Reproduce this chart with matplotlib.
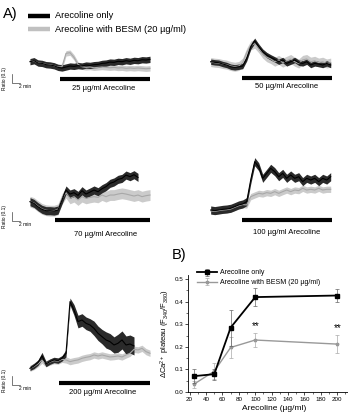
import numpy as np
import matplotlib
matplotlib.use('Agg')
import matplotlib.pyplot as plt
from matplotlib.ticker import MultipleLocator

plt.rcParams['font.family'] = ['Liberation Sans', 'DejaVu Sans']
plt.rcParams['mathtext.fontset'] = 'custom'
plt.rcParams['mathtext.rm'] = 'Liberation Sans'
plt.rcParams['mathtext.it'] = 'Liberation Sans:italic'

# ---- Panel A data: mean fluorescence ratio traces (1 sample per minute) ----
minutes = list(range(31))

p25_only = [1.000, 1.011, 0.985, 0.981, 0.967, 0.963, 0.955, 0.937, 0.930, 0.941, 0.952,
            0.948, 0.956, 0.952, 0.963, 0.959, 0.967, 0.970, 0.981, 0.985, 0.996, 0.993,
            1.004, 1.000, 1.011, 1.004, 1.015, 1.011, 1.022, 1.019, 1.026]
p25_besm = [1.004, 1.007, 0.989, 0.981, 0.970, 0.967, 0.955, 0.941, 0.944, 1.093, 1.100,
            1.048, 0.970, 0.944, 0.937, 0.941, 0.933, 0.937, 0.941, 0.937, 0.933, 0.937,
            0.930, 0.933, 0.926, 0.930, 0.926, 0.930, 0.926, 0.922, 0.926]

p50_only = [1.000, 0.993, 0.989, 0.974, 0.963, 0.944, 0.937, 0.944, 0.952, 1.037, 1.167,
            1.233, 1.167, 1.111, 1.074, 1.048, 1.026, 1.000, 1.019, 0.981, 1.000, 1.019,
            0.989, 0.981, 1.000, 0.963, 0.981, 0.974, 0.963, 0.981, 0.963]
p50_besm = [0.996, 0.989, 0.985, 0.974, 0.967, 0.952, 0.944, 0.952, 0.990, 1.100, 1.180,
            1.200, 1.150, 1.090, 1.050, 1.030, 1.000, 1.020, 0.990, 1.010, 1.030, 1.000,
            0.980, 1.020, 1.030, 1.000, 1.010, 0.990, 1.000, 0.980, 0.990]

p70_only = [1.000, 0.981, 0.944, 0.915, 0.900, 0.900, 0.896, 0.907, 1.019, 1.130, 1.085,
            1.100, 1.070, 1.122, 1.085, 1.107, 1.130, 1.111, 1.144, 1.167, 1.204, 1.219,
            1.248, 1.259, 1.296, 1.278, 1.300, 1.270]
p70_besm = [1.000, 0.985, 0.950, 0.920, 0.905, 0.900, 0.900, 0.915, 1.030, 1.100, 1.037,
            1.056, 1.019, 1.056, 1.037, 1.048, 1.056, 1.048, 1.074, 1.056, 1.074, 1.074,
            1.085, 1.093, 1.085, 1.074, 1.063, 1.074, 1.056, 1.067, 1.074]

p100_only = [1.000, 0.993, 1.000, 1.007, 1.011, 1.019, 1.037, 1.056, 1.067, 1.093, 1.333,
             1.537, 1.481, 1.352, 1.407, 1.463, 1.426, 1.370, 1.407, 1.352, 1.389, 1.352,
             1.370, 1.315, 1.352, 1.333, 1.352, 1.315, 1.352, 1.333, 1.370]
p100_besm = [0.990, 0.985, 0.993, 1.000, 1.004, 1.011, 1.030, 1.048, 1.060, 1.056, 1.148,
             1.167, 1.185, 1.178, 1.193, 1.185, 1.204, 1.185, 1.204, 1.222, 1.204, 1.222,
             1.215, 1.241, 1.222, 1.230, 1.222, 1.241, 1.222, 1.230, 1.230]

p200_only = [1.000, 1.026, 1.063, 1.137, 1.048, 1.074, 1.093, 1.085, 1.111, 1.167, 1.741,
             1.648, 1.519, 1.537, 1.500, 1.481, 1.444, 1.389, 1.352, 1.315, 1.296, 1.259,
             1.278, 1.315, 1.259, 1.270, 1.248]
p200_besm = [1.000, 1.020, 1.050, 1.090, 1.050, 1.070, 1.085, 1.080, 1.100, 1.093, 1.074,
             1.085, 1.093, 1.111, 1.122, 1.130, 1.148, 1.137, 1.148, 1.137, 1.126, 1.130,
             1.137, 1.126, 1.148, 1.167, 1.211, 1.204, 1.222, 1.185, 1.167]

# SEM of each trace
sem_only = [0.035, 0.03, 0.045, 0.045, None]
sem_besm = [0.03, 0.05, 0.06, 0.035, 0.035]
p200_only_sem = [0.025, 0.03, 0.03, 0.04, 0.03, 0.03, 0.03, 0.03, 0.03, 0.04, 0.04, 0.06,
                 0.07, 0.07, 0.07, 0.07, 0.08, 0.08, 0.08, 0.09, 0.09, 0.09, 0.10, 0.10,
                 0.10, 0.10, 0.10]

doses_a = ['25', '50', '70', '100', '200']
stim_on = [7.5, 7.9, 6.25, 7.9, 7.25]   # minutes
stim_off = [30, 30.3, 30, 30.3, 30]

# ---- Panel B data ----
conc = [25, 50, 70, 100, 200]
plateau_only = [0.070, 0.079, 0.285, 0.420, 0.427]
plateau_only_err = [0.030, 0.025, 0.080, 0.040, 0.030]
plateau_besm = [0.034, 0.092, 0.197, 0.230, 0.212]
plateau_besm_err = [0.015, 0.035, 0.045, 0.030, 0.040]
signif = [100, 200]

W, H = 348, 413
PX_MIN, PX_RATIO = 4.0, 90.0
fig = plt.figure(figsize=(W / 100, H / 100), dpi=100)


def fx(x):
    return x / W


def fy(y):
    return 1 - y / H


# layout of each trace panel (pixel positions)
t0_px = [30, 210.7, 30, 210.7, 30]
base_px = [61.7, 61.7, 201.7, 210, 368.3]
bar_px = [79, 78.3, 220, 220, 383.3]
label_px = [(104, 89), (287, 87), (105.5, 234), (287, 233), (103, 393)]
scale_px = [83, None, 221, None, 385]
only_series = [p25_only, p50_only, p70_only, p100_only, p200_only]
besm_series = [p25_besm, p50_besm, p70_besm, p100_besm, p200_besm]

for i in range(5):
    ax = fig.add_axes([0, 0, 1, 1])
    ax.patch.set_alpha(0)
    ax.axis('off')
    t0, b = t0_px[i], base_px[i]
    ax.set_xlim(-t0 / PX_MIN, (W - t0) / PX_MIN)
    ax.set_ylim(1 - (H - b) / PX_RATIO, 1 + b / PX_RATIO)

    g = np.array(besm_series[i])
    tg = np.array(minutes[:len(g)])
    ax.fill_between(tg, g - sem_besm[i], g + sem_besm[i], color='#cbcbcb', lw=0)
    ax.plot(tg, g, color='#a8a8a8', lw=0.8)

    k = np.array(only_series[i])
    tk = np.array(minutes[:len(k)])
    s = np.array(p200_only_sem) if sem_only[i] is None else sem_only[i]
    ax.fill_between(tk, k - s, k + s, color='#2a2a2a', lw=0)
    ax.plot(tk, k, color='black', lw=0.8)

    yb = 1 - (bar_px[i] - b) / PX_RATIO
    ax.plot([stim_on[i], stim_off[i]], [yb, yb], color='black', lw=3, solid_capstyle='butt')
    fig.text(fx(label_px[i][0]), fy(label_px[i][1]), doses_a[i] + ' µg/ml Arecoline',
             ha='center', va='center', fontsize=5.5)

    if scale_px[i] is not None:
        ys = 1 - (scale_px[i] - b) / PX_RATIO
        ts = (12 - t0) / PX_MIN
        ax.plot([ts, ts, ts + 2], [ys + 0.1, ys, ys], color='#444444', lw=0.5, clip_on=False)
        fig.text(fx(19), fy(scale_px[i] + 3.5), '2 min', fontsize=3.5, va='center')
        fig.text(fx(5), fy(scale_px[i] - 5), 'Ratio (0.1)', fontsize=3.5, rotation=90,
                 ha='center', va='center')

# panel labels and legend of A
fig.text(fx(3), fy(14), 'A)', fontsize=10.5, va='center')
fig.text(fx(172), fy(255), 'B)', fontsize=10.5, va='center')
lg = fig.add_axes([0, 0, 1, 1])
lg.patch.set_alpha(0)
lg.axis('off')
lg.set_xlim(0, W)
lg.set_ylim(H, 0)
lg.plot([28, 50], [16, 16], color='black', lw=3.2, solid_capstyle='butt')
lg.plot([28, 50], [29, 29], color='#c0c0c0', lw=3.2, solid_capstyle='butt')
lg.text(55, 16, 'Arecoline only', fontsize=6.7, va='center')
lg.text(55, 29, 'Arecoline with BESM (20 µg/ml)', fontsize=6.7, va='center')

# ---- Panel B ----
axb = fig.add_axes([fx(188), fy(392), (360 - 188) / W, (392 - 274.5) / H])
axb.set_xlim(18, 18 + 172 / 0.82)
axb.set_ylim(0, 0.52)
axb.errorbar(conc, plateau_only, yerr=plateau_only_err, color='black', lw=1.3,
             marker='s', ms=2.5, ecolor='#666666', elinewidth=0.5, capsize=1.2,
             capthick=0.5, label='Arecoline only', zorder=3)
axb.errorbar(conc, plateau_besm, yerr=plateau_besm_err, color='#999999', lw=1.0,
             marker='*', ms=2.5, ecolor='#aaaaaa', elinewidth=0.5, capsize=1.2,
             capthick=0.5, label='Arecoline with BESM (20 µg/ml)', zorder=2)
for c in signif:
    yv = plateau_besm[conc.index(c)] + plateau_besm_err[conc.index(c)] + 0.01
    axb.text(c, yv, '**', ha='center', va='bottom', fontsize=7)
axb.spines['top'].set_visible(False)
axb.spines['right'].set_visible(False)
for sp in axb.spines.values():
    sp.set_linewidth(0.6)
axb.xaxis.set_major_locator(MultipleLocator(20))
axb.xaxis.set_minor_locator(MultipleLocator(10))
axb.yaxis.set_major_locator(MultipleLocator(0.1))
axb.yaxis.set_minor_locator(MultipleLocator(0.05))
axb.tick_params(labelsize=4.5, width=0.5, length=2, pad=1.5)
axb.tick_params(which='minor', width=0.4, length=1.2)
axb.yaxis.set_major_formatter(matplotlib.ticker.FormatStrFormatter('%.1f'))
axb.set_xlabel('Arecoline (µg/ml)', fontsize=6, labelpad=2)
axb.set_ylabel(r'ΔCa$^{2+}$ plateau (F$_{340}$/F$_{380}$)', fontsize=5.5, labelpad=2)
axb.legend(loc='upper left', bbox_to_anchor=(fx(194), fy(266)), bbox_transform=fig.transFigure,
           frameon=False, fontsize=5, handlelength=2.8, labelspacing=0.4, borderpad=0,
           handletextpad=0.5)

fig.savefig('out.png', dpi=100)
